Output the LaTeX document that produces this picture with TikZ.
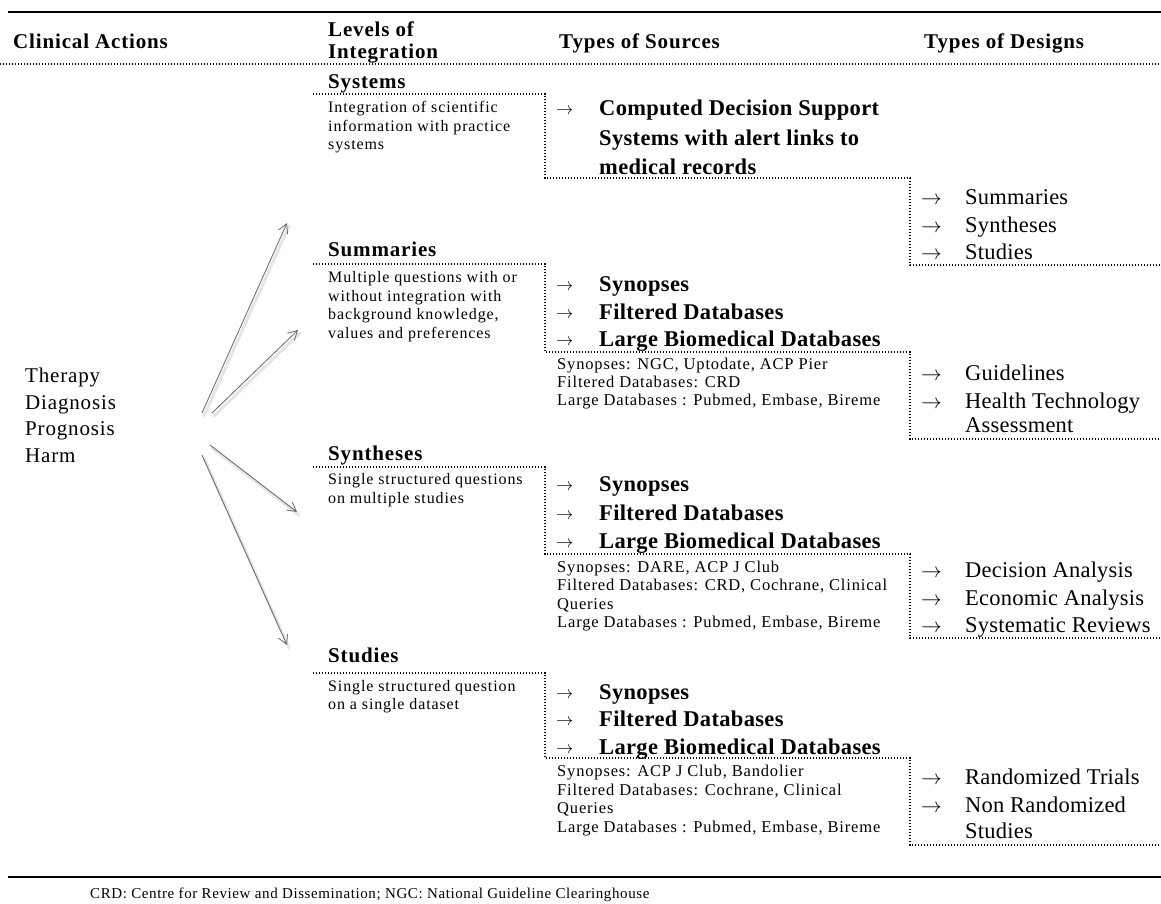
\documentclass[tikz,border=0pt]{standalone}
\usepackage{fontspec}
\setmainfont{Liberation Serif}[LetterSpace=4]
\usetikzlibrary{arrows.meta}
\begin{document}
\begin{tikzpicture}[x=1pt,y=-1pt,
  txt/.style={anchor=base west,inner sep=0pt},
  hd/.style={txt,font=\fontsize{21}{25}\selectfont\bfseries},
  lvl/.style={txt,font=\fontsize{21}{25}\selectfont\bfseries},
  dsc/.style={txt,font=\fontsize{16}{19}\selectfont\addfontfeature{LetterSpace=5.5}},
  src/.style={txt,font=\fontsize{22.5}{26}\selectfont\bfseries\addfontfeature{LetterSpace=1.5}},
  det/.style={txt,font=\fontsize{16.5}{19}\selectfont\addfontfeature{LetterSpace=5}},
  dsg/.style={txt,font=\fontsize{22.5}{26}\selectfont\addfontfeature{LetterSpace=1}},
  act/.style={txt,font=\fontsize{21}{25}\selectfont},
  arr/.style={txt,font=\fontsize{17}{19}\selectfont},
  darr/.style={txt,font=\fontsize{20}{22}\selectfont},
  foot/.style={txt,font=\fontsize{15}{18}\selectfont},
  dotln/.style={line width=1.5pt,dash pattern=on 1.4pt off 1.6pt},
  rule/.style={line width=2.8pt},
  fan/.style={draw=black!60,line width=0.8pt,-{Straight Barb[length=9pt,width=10pt]}},
  fanshadow/.style={draw=black!10,line width=3pt,line cap=round}
]
\useasboundingbox (0,0) rectangle (1161,903);

% header
\draw[rule] (8,12) -- (1161,12);
\node[hd] (h1) at (13,48) {Clinical Actions};
\node[hd] (h2a) at (328,36) {Levels of};
\node[hd] (h2b) at (328,58) {Integration};
\node[hd] (h3) at (559,48) {Types of Sources};
\node[hd] (h4) at (924,48) {Types of Designs};
\draw[dotln] (0,64) -- (1161,64);

% clinical actions
\node[act] (a1) at (25,382) {Therapy};
\node[act] (a2) at (25,409) {Diagnosis};
\node[act] (a3) at (25,435) {Prognosis};
\node[act] (a4) at (25,462) {Harm};

\coordinate (f1s) at (202,413); \coordinate (f1e) at (287,223);
\coordinate (f2s) at (212,413); \coordinate (f2e) at (298,330);
\coordinate (f3s) at (210,445); \coordinate (f3e) at (297,512);
\coordinate (f4s) at (202,455); \coordinate (f4e) at (287,645);
\foreach \i in {1,2,3,4}{
  \draw[fanshadow,transform canvas={shift={(2,3)}}] (f\i s) -- (f\i e);
}
\foreach \i in {1,2,3,4}{
  \draw[fan] (f\i s) -- (f\i e);
}

% ---------- Systems ----------
\node[lvl] (L1) at (328,88) {Systems};
\draw[dotln] (313,94) -- (545,94) -- (545,178) -- (910,178) -- (910,265) -- (1161,265);
\node[dsc] (d11) at (328,112) {Integration of scientific};
\node[dsc] (d12) at (328,131) {information with practice};
\node[dsc] (d13) at (328,149) {systems};
\node[arr] (s1a) at (556,114) {$\rightarrow$};
\node[src] (s11) at (599,115) {Computed Decision Support};
\node[src] (s12) at (599,145) {Systems with alert links to};
\node[src] (s13) at (599,174) {medical records};
\node[darr] (g11a) at (921,204) {$\rightarrow$};
\node[darr] (g12a) at (921,232) {$\rightarrow$};
\node[darr] (g13a) at (921,259) {$\rightarrow$};
\node[dsg] (g11) at (965,204) {Summaries};
\node[dsg] (g12) at (965,232) {Syntheses};
\node[dsg] (g13) at (965,259) {Studies};

% ---------- Summaries ----------
\node[lvl] (L2) at (328,256) {Summaries};
\draw[dotln] (313,264) -- (545,264) -- (545,352) -- (910,352) -- (910,439) -- (1161,439);
\node[dsc] (d21) at (328,282) {Multiple questions with or};
\node[dsc] (d22) at (328,301) {without integration with};
\node[dsc] (d23) at (328,319) {background knowledge,};
\node[dsc] (d24) at (328,338) {values and preferences};
\node[arr] (s21a) at (556,290) {$\rightarrow$};
\node[arr] (s22a) at (556,318) {$\rightarrow$};
\node[arr] (s23a) at (556,345) {$\rightarrow$};
\node[src] (s21) at (599,291) {Synopses};
\node[src] (s22) at (599,319) {Filtered Databases};
\node[src] (s23) at (599,346) {Large Biomedical Databases};
\node[det] (e21) at (557,369) {Synopses: NGC, Uptodate, ACP Pier};
\node[det] (e22) at (557,387) {Filtered Databases: CRD};
\node[det] (e23) at (557,405) {Large Databases : Pubmed, Embase, Bireme};
\node[darr] (g21a) at (921,380) {$\rightarrow$};
\node[darr] (g22a) at (921,408) {$\rightarrow$};
\node[dsg] (g21) at (965,380) {Guidelines};
\node[dsg] (g22) at (965,408) {Health Technology};
\node[dsg] (g23) at (965,432) {Assessment};

% ---------- Syntheses ----------
\node[lvl] (L3) at (328,460) {Syntheses};
\draw[dotln] (313,467) -- (545,467) -- (545,554) -- (910,554) -- (910,638) -- (1161,638);
\node[dsc] (d31) at (328,484) {Single structured questions};
\node[dsc] (d32) at (328,503) {on multiple studies};
\node[arr] (s31a) at (556,490) {$\rightarrow$};
\node[arr] (s32a) at (556,519) {$\rightarrow$};
\node[arr] (s33a) at (556,547) {$\rightarrow$};
\node[src] (s31) at (599,491) {Synopses};
\node[src] (s32) at (599,520) {Filtered Databases};
\node[src] (s33) at (599,548) {Large Biomedical Databases};
\node[det] (e31) at (557,572) {Synopses: DARE, ACP J Club};
\node[det] (e32) at (557,590.5) {Filtered Databases: CRD, Cochrane, Clinical};
\node[det] (e33) at (557,609) {Queries};
\node[det] (e34) at (557,627.5) {Large Databases : Pubmed, Embase, Bireme};
\node[darr] (g31a) at (921,577) {$\rightarrow$};
\node[darr] (g32a) at (921,605) {$\rightarrow$};
\node[darr] (g33a) at (921,632) {$\rightarrow$};
\node[dsg] (g31) at (965,577) {Decision Analysis};
\node[dsg] (g32) at (965,605) {Economic Analysis};
\node[dsg] (g33) at (965,632) {Systematic Reviews};

% ---------- Studies ----------
\node[lvl] (L4) at (328,662) {Studies};
\draw[dotln] (313,673) -- (545,673) -- (545,758) -- (910,758) -- (910,845) -- (1161,845);
\node[dsc] (d41) at (328,691) {Single structured question};
\node[dsc] (d42) at (328,709) {on a single dataset};
\node[arr] (s41a) at (556,698) {$\rightarrow$};
\node[arr] (s42a) at (556,725) {$\rightarrow$};
\node[arr] (s43a) at (556,753) {$\rightarrow$};
\node[src] (s41) at (599,699) {Synopses};
\node[src] (s42) at (599,726) {Filtered Databases};
\node[src] (s43) at (599,754) {Large Biomedical Databases};
\node[det] (e41) at (557,776) {Synopses: ACP J Club, Bandolier};
\node[det] (e42) at (557,795) {Filtered Databases: Cochrane, Clinical};
\node[det] (e43) at (557,813) {Queries};
\node[det] (e44) at (557,832) {Large Databases : Pubmed, Embase, Bireme};
\node[darr] (g41a) at (921,784) {$\rightarrow$};
\node[darr] (g42a) at (921,812) {$\rightarrow$};
\node[dsg] (g41) at (965,784) {Randomized Trials};
\node[dsg] (g42) at (965,812) {Non Randomized};
\node[dsg] (g43) at (965,838) {Studies};

% footer
\draw[rule] (8,877) -- (1161,877);
\node[foot] (ft) at (90,898) {CRD: Centre for Review and Dissemination; NGC: National Guideline Clearinghouse};
\end{tikzpicture}
\end{document}
